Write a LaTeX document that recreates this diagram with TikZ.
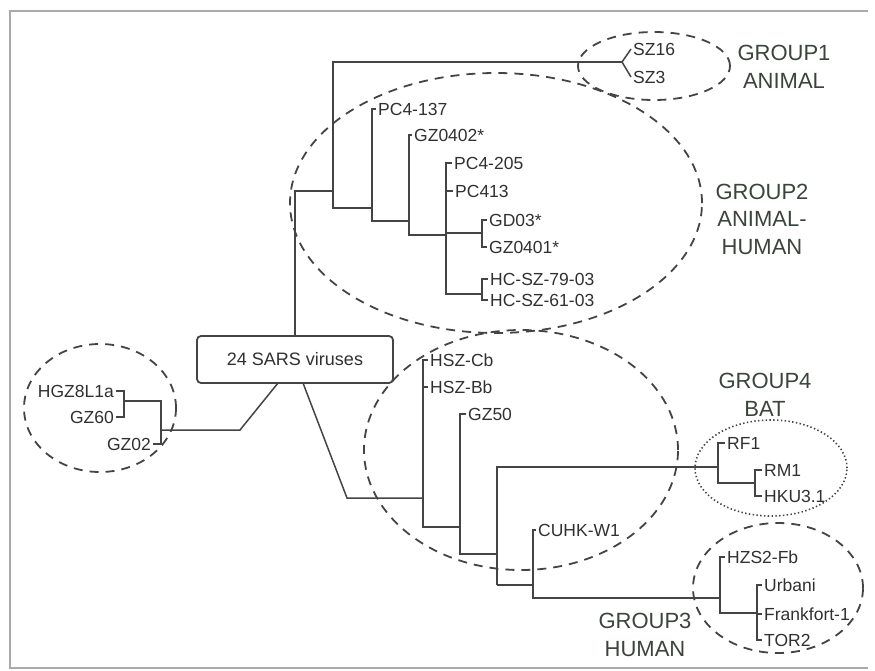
\documentclass[tikz,border=0pt]{standalone}
\usepackage{fontspec}
\setmainfont{Liberation Sans}
\definecolor{branch}{HTML}{444444}
\definecolor{ink}{HTML}{303030}
\definecolor{grouptext}{HTML}{3A443A}
\definecolor{framegray}{HTML}{AAAAAA}

\begin{document}
\begin{tikzpicture}[x=1pt, y=-1pt,
  every node/.style={font=\fontsize{17.5}{20}\selectfont, text=ink},
  leaf/.style={anchor=west, inner sep=2pt, text height=12.6pt, text depth=0pt},
  leafl/.style={leaf, anchor=east},
  grp/.style={align=center, text=grouptext, font=\fontsize{22}{27.5}\selectfont},
  tree/.style={draw=branch, line width=1.5pt},
  ring/.style={draw=branch, line width=1.8pt, dash pattern=on 9pt off 7pt},
  batring/.style={draw=branch, line width=1.6pt, dash pattern=on 1.4pt off 2.4pt}]
  \useasboundingbox (0,0) rectangle (875,670);
  \draw[framegray, line width=1.5pt] (868,11) -- (10,11) -- (10,668) -- (868,668);

  \draw[ring] (654,66) ellipse [x radius=76pt, y radius=34pt];
  \draw[ring] (496,203) ellipse [x radius=206pt, y radius=130pt];
  \draw[ring] (100,408) ellipse [x radius=76pt, y radius=64pt];
  \draw[ring] (521,450) ellipse [x radius=157pt, y radius=120pt];
  \draw[batring] (771,468) ellipse [x radius=76pt, y radius=48pt];
  \draw[ring] (778,588) ellipse [x radius=85pt, y radius=65pt];

  \node[draw=branch, line width=1.8pt, rounded corners=4pt, minimum width=196pt,
    minimum height=47pt, inner sep=0pt, font=\fontsize{18}{20}\selectfont]
    (box) at (295,359.5) {24 SARS viruses};

  \node[leaf] (sz16) at (631,49) {SZ16};
  \node[leaf] (sz3) at (631,77) {SZ3};
  \node[leaf] (pc4137) at (376,109) {PC4-137};
  \node[leaf] (gz0402) at (412,135) {GZ0402*};
  \node[leaf] (pc4205) at (452,163) {PC4-205};
  \node[leaf] (pc413) at (453,191) {PC413};
  \node[leaf] (gd03) at (487,220) {GD03*};
  \node[leaf] (gz0401) at (487,247) {GZ0401*};
  \node[leaf] (hc79) at (488,279) {HC-SZ-79-03};
  \node[leaf] (hc61) at (488,300) {HC-SZ-61-03};

  \node[leafl] (hgz) at (116,391) {HGZ8L1a};
  \node[leafl] (gz60) at (116,417) {GZ60};
  \node[leafl] (gz02) at (153,444) {GZ02};

  \node[leaf] (hszcb) at (428,360) {HSZ-Cb};
  \node[leaf] (hszbb) at (428,387) {HSZ-Bb};
  \node[leaf] (gz50) at (466,414) {GZ50};
  \node[leaf] (cuhk) at (536,530) {CUHK-W1};
  \node[leaf] (rf1) at (725,443) {RF1};
  \node[leaf] (rm1) at (762,470) {RM1};
  \node[leaf] (hku) at (762,496) {HKU3.1};
  \node[leaf] (hzs2) at (725,557) {HZS2-Fb};
  \node[leaf] (urbani) at (762,585) {Urbani};
  \node[leaf] (frank) at (762,614) {Frankfort-1};
  \node[leaf] (tor2) at (762,640) {TOR2};

  \node[grp] (g1) at (784,67) {GROUP1\\ANIMAL};
  \node[grp] (g2) at (762,219) {GROUP2\\ANIMAL-\\HUMAN};
  \node[grp] (g4) at (765,395) {GROUP4\\BAT};
  \node[grp] (g3) at (645,635) {GROUP3\\HUMAN};

  \coordinate (bxl) at (278,383);
  \coordinate (bxr) at (303,383);
  \coordinate (a1) at (333,191);
  \coordinate (f1) at (622,62);
  \coordinate (a2) at (333,208);
  \coordinate (b2) at (372,221);
  \coordinate (c2) at (409,235);
  \coordinate (d2) at (446,294);
  \coordinate (e2) at (482,233);
  \coordinate (h2) at (482,294);
  \coordinate (l1) at (124,401);
  \coordinate (l2) at (161,430);
  \coordinate (l3) at (240,430);
  \coordinate (k1) at (347,498);
  \coordinate (p1) at (423,527);
  \coordinate (p2) at (460,554);
  \coordinate (p3) at (497,585);
  \coordinate (p4) at (533,598);
  \coordinate (q0) at (718,467);
  \coordinate (q1) at (718,483);
  \coordinate (q2) at (755,483);
  \coordinate (r1) at (720,613);
  \coordinate (r2) at (757,613);

  \draw[tree] (box.north) |- (a1);
  \draw[tree] (f1) -| (a2) -- (a2 -| b2);
  \draw[tree] (sz16.west) -- (f1) -- (sz3.west);
  \draw[tree] (pc4137.west) -| (b2) -- (b2 -| c2);
  \draw[tree] (gz0402.west) -| (c2) -- (c2 -| d2);
  \draw[tree] (pc4205.west) -| (d2) -- (h2);
  \draw[tree] (pc413.west) -- (pc413.west -| d2);
  \draw[tree] (gd03.west) -| (e2) -- (e2 -| d2);
  \draw[tree] (gz0401.west) -| (e2);
  \draw[tree] (hc79.west) -| (h2);
  \draw[tree] (hc61.west) -| (h2);

  \draw[tree] (hgz.east) -| (l1);
  \draw[tree] (gz60.east) -| (l1);
  \draw[tree] (l1) -| (l2);
  \draw[tree] (gz02.east) -| (l2);
  \draw[tree] (l2) -- (l3) -- (bxl);

  \draw[tree] (bxr) -- (k1) -- (k1 -| p1);
  \draw[tree] (hszcb.west) -| (p1) -- (p1 -| p2);
  \draw[tree] (hszbb.west) -- (hszbb.west -| p1);
  \draw[tree] (gz50.west) -| (p2) -- (p2 -| p3);
  \draw[tree, line width=1.9pt] (q0) -| (p3);
  \draw[tree] (p3) -- (p3 -| p4);
  \draw[tree] (cuhk.west) -| (p4) -| (r1);
  \draw[tree] (rf1.west) -| (q1) -- (q2);
  \draw[tree] (rm1.west) -| (q2);
  \draw[tree] (hku.west) -| (q2);
  \draw[tree] (hzs2.west) -| (r1) -- (r2);
  \draw[tree] (urbani.west) -| (r2);
  \draw[tree] (tor2.west) -| (r2);
  \draw[tree] (frank.west) -- (frank.west -| r2);
\end{tikzpicture}
\end{document}
